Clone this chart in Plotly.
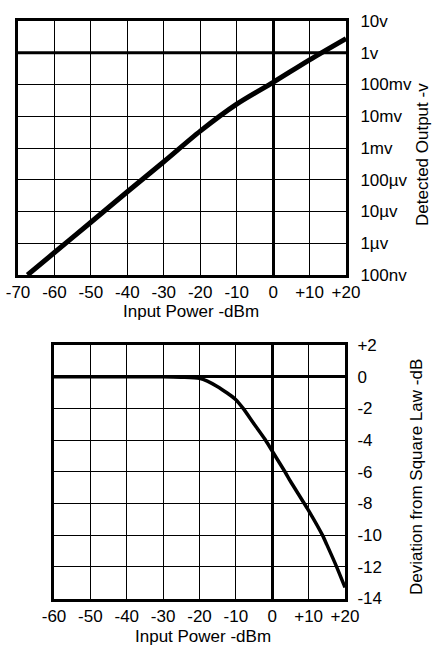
import plotly.graph_objects as go

# ---- data ----
# Top: detected output vs input power
top_power_dbm = [-67.4, -60, -50, -40, -30, -20, -10, 0, 10, 20]
top_output_v = [1.0e-7, 5.1e-7, 4.6e-6, 4.2e-5, 3.7e-4, 3.4e-3, 0.024, 0.117, 0.60, 2.8]

top_x_ticks = [-70, -60, -50, -40, -30, -20, -10, 0, 10, 20]
top_x_labels = ["-70", "-60", "-50", "-40", "-30", "-20", "-10", "0", "+10", "+20"]
top_y_ticks = [1e-7, 1e-6, 1e-5, 1e-4, 1e-3, 1e-2, 1e-1, 1, 10]
top_y_labels = ["100nv", "1µv", "10µv", "100µv", "1mv", "10mv", "100mv", "1v", "10v"]

# Bottom: deviation from square law vs input power
bot_power_dbm = [-60, -50, -40, -30, -25, -20, -15, -10, -8, -5, -2, 0,
                 3.5, 5, 10, 13.8, 15, 17.7, 20]
bot_dev_db = [0, 0, 0, 0, -0.03, -0.1, -0.63, -1.45, -2.0, -2.98, -3.95, -4.7,
              -6.0, -6.6, -8.45, -10.0, -10.6, -12.0, -13.3]

bot_x_ticks = [-60, -50, -40, -30, -20, -10, 0, 10, 20]
bot_x_labels = ["-60", "-50", "-40", "-30", "-20", "-10", "0", "+10", "+20"]
bot_y_ticks = [2, 0, -2, -4, -6, -8, -10, -12, -14]
bot_y_labels = ["+2", "0", "-2", "-4", "-6", "-8", "-10", "-12", "-14"]

FONT = "Liberation Sans, Arial, sans-serif"
FS = 17
W, H = 432, 648


def fx(px):
    return px / W


def fy(py):
    return 1 - py / H


fig = go.Figure()
fig.add_trace(go.Scatter(x=top_power_dbm, y=top_output_v, mode="lines",
                         line=dict(color="black", width=5, shape="spline", smoothing=0.8),
                         xaxis="x", yaxis="y", showlegend=False))
fig.add_trace(go.Scatter(x=bot_power_dbm, y=bot_dev_db, mode="lines",
                         line=dict(color="black", width=3.5, shape="spline", smoothing=0.6),
                         xaxis="x2", yaxis="y2", showlegend=False))

common_axis = dict(showgrid=True, gridcolor="black", gridwidth=1.4,
                   showline=True, linecolor="black", linewidth=3, mirror=True,
                   ticks="", automargin=False, tickangle=0,
                   ticklabeloverflow="allow",
                   tickfont=dict(family=FONT, size=FS, color="black"))

fig.update_layout(
    width=W, height=H,
    margin=dict(l=0, r=0, t=0, b=0),
    paper_bgcolor="white", plot_bgcolor="white",
    font=dict(family=FONT, size=FS, color="black"),
    xaxis=dict(domain=[fx(18), fx(346)], range=[-70, 20], tickmode="array",
               tickvals=top_x_ticks, ticktext=top_x_labels, anchor="y",
               zeroline=True, zerolinecolor="black", zerolinewidth=3,
               ticklabelstandoff=0, **common_axis),
    yaxis=dict(domain=[fy(275), fy(21)], type="log", range=[-7, 1],
               tickmode="array", tickvals=top_y_ticks, ticktext=top_y_labels,
               side="right", anchor="x", ticklabelstandoff=8, **common_axis),
    xaxis2=dict(domain=[fx(54), fx(345)], range=[-60, 20], tickmode="array",
                tickvals=bot_x_ticks, ticktext=bot_x_labels, anchor="y2",
                zeroline=True, zerolinecolor="black", zerolinewidth=3,
                ticklabelstandoff=0, **common_axis),
    yaxis2=dict(domain=[fy(598.5), fy(345)], range=[-14, 2],
                tickmode="array", tickvals=bot_y_ticks, ticktext=bot_y_labels,
                side="right", anchor="x2", ticklabelstandoff=6,
                zeroline=True, zerolinecolor="black", zerolinewidth=3,
                **common_axis),
)

# thick reference line at 1 V on the top chart
fig.add_shape(type="line", xref="x domain", yref="y", x0=0, x1=1, y0=1, y1=1,
              line=dict(color="black", width=3), layer="below")

ann_font = dict(family=FONT, size=FS, color="black")
fig.add_annotation(text="Input Power -dBm", xref="paper", yref="paper",
                   x=fx(191), y=fy(312), showarrow=False, font=ann_font,
                   xanchor="center", yanchor="middle")
fig.add_annotation(text="Input Power -dBm", xref="paper", yref="paper",
                   x=fx(203), y=fy(636), showarrow=False, font=ann_font,
                   xanchor="center", yanchor="middle")
fig.add_annotation(text="Detected Output -v", xref="paper", yref="paper",
                   x=fx(422), y=fy(155), showarrow=False, font=ann_font,
                   textangle=-90, xanchor="center", yanchor="middle")
fig.add_annotation(text="Deviation from Square Law -dB", xref="paper", yref="paper",
                   x=fx(416), y=fy(477), showarrow=False, font=ann_font,
                   textangle=-90, xanchor="center", yanchor="middle")

# remove the default 8px page margin so the figure fills the window
fig.write_html("out.html",
               config={"displayModeBar": False},
               post_script="document.body.style.margin='0';"
                           "document.body.style.overflow='hidden';")
